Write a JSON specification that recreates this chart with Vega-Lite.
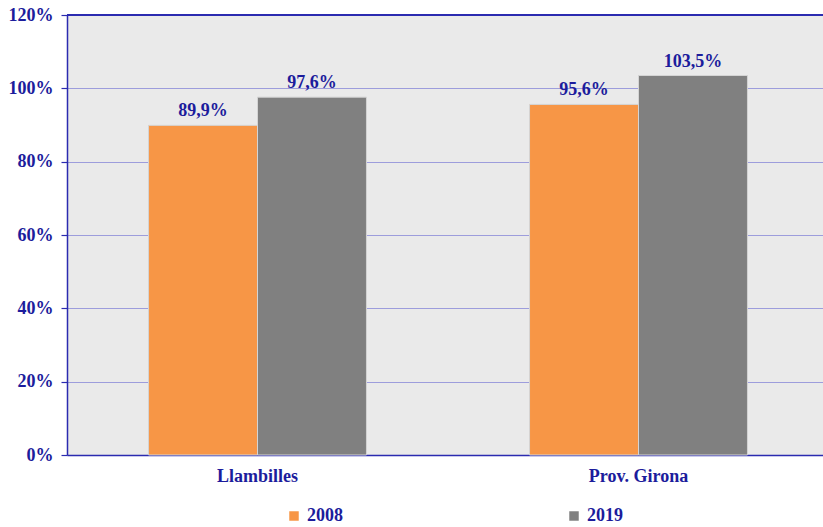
{
  "$schema": "https://vega.github.io/schema/vega-lite/v6.json",
  "autosize": "none",
  "width": 762,
  "height": 440,
  "padding": {"left": 67, "top": 15, "right": 0, "bottom": 72},
  "background": "white",
  "config": {
    "view": {"stroke": null, "fill": "#eaeaea"},
    "font": "Liberation Serif"
  },
  "data": {
    "values": [
      {"area": "Llambilles", "year": "2008", "value": 89.9, "label": "89,9%"},
      {"area": "Llambilles", "year": "2019", "value": 97.6, "label": "97,6%"},
      {"area": "Prov. Girona", "year": "2008", "value": 95.6, "label": "95,6%"},
      {"area": "Prov. Girona", "year": "2019", "value": 103.5, "label": "103,5%"}
    ]
  },
  "layer": [
    {
      "mark": {"type": "bar", "stroke": "#d4d4d4", "strokeWidth": 1},
      "encoding": {
        "x": {
          "field": "area", "type": "nominal", "sort": null,
          "scale": {"paddingInner": 0.428, "paddingOuter": 0.214},
          "axis": {
            "title": null, "labelAngle": 0, "ticks": false,
            "domainColor": "#2b2bb0", "domainWidth": 1.5,
            "labelFont": "Liberation Serif", "labelFontSize": 18, "labelFontWeight": "bold",
            "labelColor": "#1c1c9c", "labelPadding": 12
          }
        },
        "xOffset": {"field": "year", "type": "nominal", "scale": {"paddingInner": 0, "paddingOuter": 0}},
        "y": {
          "field": "value", "type": "quantitative",
          "scale": {"domain": [0, 120], "nice": false},
          "axis": {
            "title": null, "values": [0, 20, 40, 60, 80, 100, 120],
            "labelExpr": "datum.value + '%'",
            "gridColor": "#9d9ddc", "gridWidth": 1,
            "domainColor": "#2b2bb0", "domainWidth": 1.5,
            "tickColor": "#2b2bb0", "tickSize": 6, "tickWidth": 1.2,
            "labelFont": "Liberation Serif", "labelFontSize": 18, "labelFontWeight": "bold",
            "labelColor": "#1c1c9c", "labelPadding": 8
          }
        },
        "color": {
          "field": "year", "type": "nominal",
          "scale": {"domain": ["2008", "2019"], "range": ["#f79646", "#808080"]},
          "legend": {
            "title": null, "orient": "none", "direction": "horizontal",
            "legendX": 218, "legendY": 492,
            "symbolType": "square", "symbolSize": 90, "symbolStrokeWidth": 0,
            "columnPadding": 222,
            "labelFont": "Liberation Serif", "labelFontSize": 18, "labelFontWeight": "bold",
            "labelColor": "#1c1c9c", "labelOffset": 4
          }
        }
      }
    },
    {
      "mark": {"type": "text", "dy": -14, "fontSize": 18, "fontWeight": "bold", "font": "Liberation Serif", "color": "#1c1c9c"},
      "encoding": {
        "x": {"field": "area", "type": "nominal", "sort": null},
        "xOffset": {"field": "year", "type": "nominal"},
        "y": {"field": "value", "type": "quantitative"},
        "text": {"field": "label"}
      }
    },
    {
      "mark": {"type": "rule", "color": "#2b2bb0", "strokeWidth": 1.5},
      "encoding": {"y": {"datum": 120}}
    }
  ]
}
